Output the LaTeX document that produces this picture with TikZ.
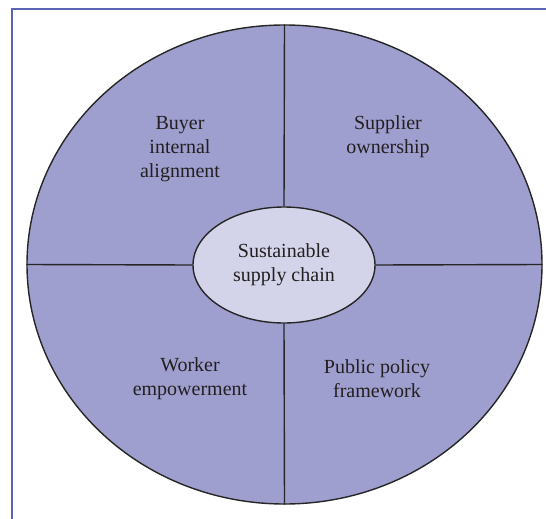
\documentclass[tikz,border=0pt]{standalone}
\usepackage{amsmath}
\usepackage{fontspec}
\setmainfont{Liberation Serif}
\usepackage{tikz}
\usetikzlibrary{shapes.geometric}

\definecolor{marco}{RGB}{90,100,180}
\definecolor{lila}{RGB}{159,159,207}
\definecolor{lilaclaro}{RGB}{211,211,234}
\definecolor{texto}{RGB}{35,31,32}

\tikzset{
  rotulo/.style={align=center,text=texto,font=\fontsize{20}{24}\selectfont},
  borde/.style={draw=black!85,line width=1.4pt}
}

\begin{document}
\begin{tikzpicture}[x=1pt,y=-1pt]
%fija el tamano de la imagen
\useasboundingbox (0,0) rectangle (546,519);

%Marco de la figura
\draw [marco,line width=2.2pt] (12,519) -- (12,9) -- (546,9);

%Elipse exterior y elipse central
\node [ellipse,borde,fill=lila,inner sep=0pt,minimum width=515,minimum height=479] (rueda) at (284.5,264.5) {};
\node [ellipse,borde,fill=lilaclaro,inner sep=0pt,minimum width=182,minimum height=116] (centro) at (284,265) {};

%Lineas que dividen la rueda
\draw [borde] (rueda.north) -- (centro.north);
\draw [borde] (rueda.south) -- (centro.south);
\draw [borde] (rueda.west) -- (centro.west);
\draw [borde] (rueda.east) -- (centro.east);

%Textos de cada sector
\node [rotulo] (hub) at (centro) {Sustainable\\supply chain};
\node [rotulo] (comprador) at (180,149) {Buyer\\internal\\alignment};
\node [rotulo] (proveedor) at (388,137) {Supplier\\ownership};
\node [rotulo] (trabajador) at (190,379) {Worker\\empowerment};
\node [rotulo] (politica) at (377,379) {Public policy\\framework};
\end{tikzpicture}
\end{document}
